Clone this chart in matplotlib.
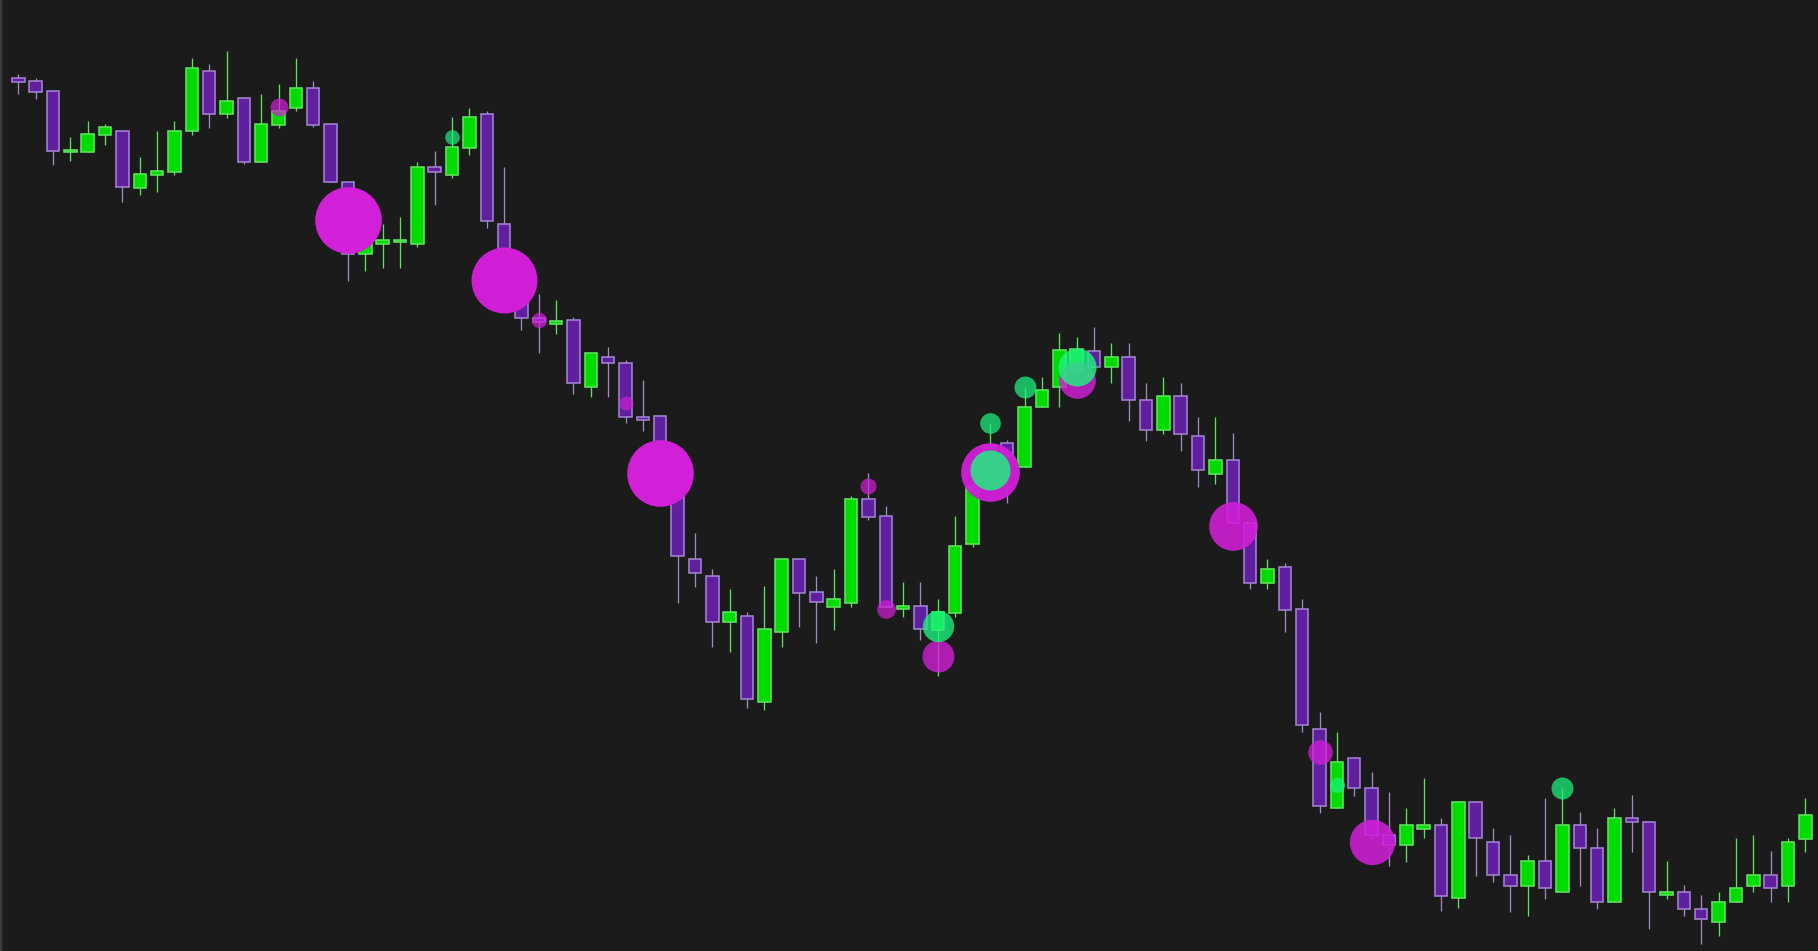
import matplotlib
matplotlib.use("Agg")
import matplotlib.pyplot as plt
import numpy as np

# ---- candle data (price units) ----
opens = [92.17, 91.87, 90.87, 84.80, 84.83, 86.53, 86.90, 81.23, 82.53, 82.83,
         86.87, 92.87, 88.57, 90.17, 83.83, 87.53, 89.17, 91.17, 87.57, 81.83,
         74.57, 75.57, 75.83, 75.57, 83.27, 82.53, 85.23, 88.60, 77.57, 71.50,
         68.20, 67.65, 67.97, 61.27, 64.27, 63.67, 58.33, 58.37, 53.00, 44.07,
         42.37, 37.77, 38.37, 29.77, 36.77, 44.07, 40.77, 39.33, 39.73, 50.07,
         48.37, 39.07, 39.40, 37.00, 38.73, 45.63, 52.50, 55.67, 53.35, 59.33,
         61.27, 62.80, 64.95, 63.27, 64.27, 59.97, 56.97, 60.37, 56.37, 52.63,
         53.97, 47.67, 41.73, 43.35, 39.07, 27.07, 19.17, 24.17, 21.17, 16.47,
         15.47, 17.15, 17.47, 10.20, 19.77, 15.77, 12.47, 11.43, 13.87, 10.83,
         17.47, 15.17, 9.83, 18.17, 17.77, 10.47, 10.83, 9.13, 7.83, 9.83,
         11.43, 12.47, 11.43, 16.13]
highs = [92.60, 92.23, 90.87, 86.33, 87.90, 87.60, 86.90, 84.30, 86.90, 87.90,
         94.20, 93.60, 94.90, 90.17, 90.60, 91.60, 94.20, 91.90, 87.57, 81.83,
         75.60, 77.60, 78.30, 83.83, 84.90, 88.27, 89.20, 88.90, 83.27, 71.50,
         70.60, 70.00, 68.27, 64.67, 65.27, 63.97, 62.00, 58.37, 53.00, 46.67,
         43.07, 41.07, 38.77, 41.40, 44.07, 44.07, 42.40, 43.10, 50.40, 52.70,
         49.40, 41.80, 41.80, 40.07, 48.40, 51.30, 57.73, 56.00, 61.35, 62.27,
         66.67, 66.33, 67.33, 65.67, 65.67, 61.67, 62.27, 61.67, 58.33, 58.33,
         56.67, 47.67, 44.07, 43.67, 40.07, 28.77, 26.77, 24.17, 22.83, 20.77,
         19.17, 22.17, 18.17, 19.77, 19.77, 17.17, 16.50, 14.47, 20.17, 21.17,
         18.80, 17.17, 19.17, 20.50, 17.77, 13.87, 11.50, 10.50, 10.83, 16.17,
         16.50, 14.90, 16.17, 20.17]
lows = [90.57, 90.13, 83.53, 83.93, 84.83, 85.53, 79.83, 80.53, 80.83, 82.53,
        86.53, 87.23, 88.23, 83.57, 83.83, 87.23, 88.87, 87.27, 81.83, 71.93,
        72.93, 73.20, 73.20, 75.27, 79.50, 82.25, 84.53, 77.23, 72.00, 67.00,
        64.67, 66.65, 60.60, 60.33, 60.33, 57.67, 56.93, 53.00, 39.73, 41.33,
        35.33, 34.77, 29.20, 29.00, 35.33, 37.33, 35.73, 37.00, 39.33, 48.00,
        39.33, 38.33, 36.00, 32.43, 38.33, 45.30, 51.20, 49.67, 53.35, 59.33,
        59.33, 62.20, 63.27, 61.67, 57.93, 55.93, 56.63, 54.93, 51.33, 51.63,
        47.67, 41.07, 41.07, 36.77, 26.77, 18.73, 19.17, 20.43, 16.00, 13.43,
        13.83, 16.17, 8.87, 9.17, 12.43, 11.83, 8.83, 8.43, 10.13, 10.83,
        11.43, 9.13, 9.83, 14.80, 7.13, 10.13, 8.43, 5.57, 6.43, 9.83,
        10.83, 9.83, 9.83, 14.83]
closes = [91.83, 90.83, 84.87, 85.00, 86.57, 87.27, 81.27, 82.57, 82.87, 86.87,
          93.17, 88.57, 89.87, 83.83, 87.57, 88.93, 91.17, 87.53, 81.83, 74.57,
          75.60, 75.97, 76.03, 83.27, 82.85, 85.27, 88.27, 77.95, 72.50, 68.25,
          67.80, 67.95, 61.67, 64.67, 63.67, 58.33, 57.97, 53.50, 44.40, 42.73,
          37.77, 38.77, 30.07, 37.07, 44.07, 40.73, 39.77, 40.07, 50.07, 48.33,
          39.33, 39.40, 37.07, 38.80, 45.40, 51.30, 55.40, 54.40, 59.35, 60.97,
          64.97, 65.10, 63.27, 64.27, 59.97, 56.97, 60.37, 56.63, 52.97, 53.97,
          47.67, 41.73, 43.07, 39.05, 27.47, 19.43, 23.77, 21.17, 16.50, 15.47,
          17.47, 17.47, 10.43, 19.77, 16.17, 12.47, 11.43, 13.87, 11.17, 17.47,
          15.17, 9.83, 18.17, 17.77, 10.83, 10.83, 9.13, 8.13, 9.83, 11.17,
          12.47, 11.17, 15.77, 18.47]

# ---- signal bubbles: candle number (1-based), price, strength ----
sell_idx = [16, 20, 29, 31, 36, 38, 50, 51, 54, 57, 62, 71, 76, 79]
sell_price = [89.27, 77.97, 72.00, 68.00, 59.73, 52.73, 51.40, 39.10, 34.43,
              52.83, 62.00, 47.40, 24.83, 15.83]
sell_strength = [27, 100, 99, 23, 21, 100, 24, 28, 48, 88, 55, 73, 37, 68]

buy_idx = [26, 54, 57, 57, 59, 62, 77, 90]
buy_price = [86.27, 37.43, 57.73, 53.00, 61.35, 63.33, 21.50, 21.17]
buy_strength = [22, 47, 31, 60, 33, 57, 23, 33]

BG = "#1b1b1b"
UP_FILL, UP_EDGE, UP_WICK = "#00dc00", "#5ee35e", "#5ee35e"
DN_FILL, DN_EDGE, DN_WICK = "#5f1f9e", "#a083cf", "#9f8cc2"
SELL_C = "#d21fd8"
BUY_C = "#1cf27f"

fig = plt.figure(figsize=(18.18, 9.51), dpi=100, facecolor=BG)
ax = fig.add_axes([0, 0, 1, 1])
ax.set_facecolor(BG)

o = np.array(opens); h = np.array(highs); l = np.array(lows); c = np.array(closes)
x = np.arange(len(o))
up = c >= o

PX = 0.72  # points per pixel at dpi 100

ax.vlines(x[up], l[up], h[up], color=UP_WICK, linewidth=1.3 * PX, zorder=1)
ax.vlines(x[~up], l[~up], h[~up], color=DN_WICK, linewidth=1.3 * PX, zorder=1)

w = 0.72
bot = np.minimum(o, c)
hgt = np.maximum(np.abs(c - o), 0.15)
ax.bar(x[up], hgt[up], bottom=bot[up], width=w, color=UP_FILL,
       edgecolor=UP_EDGE, linewidth=1.6 * PX, zorder=2)
ax.bar(x[~up], hgt[~up], bottom=bot[~up], width=w, color=DN_FILL,
       edgecolor=DN_EDGE, linewidth=1.6 * PX, zorder=2)


def bubbles(idx, price, strength, color, z):
    for i, p, s in zip(idx, price, strength):
        r_px = s * 0.333
        alpha = min(1.0, 0.6 + 0.012 * r_px)
        ax.scatter([i - 1], [p], s=(2 * r_px * PX) ** 2, color=color,
                   alpha=alpha, edgecolors=color, linewidths=0, zorder=z)


bubbles(sell_idx, sell_price, sell_strength, SELL_C, 3)
bubbles(buy_idx, buy_price, buy_strength, BUY_C, 4)

ax.set_xlim(-1.055, 103.73)
ax.set_ylim(4.9, 100)
ax.set_xticks([]); ax.set_yticks([])
for s in ax.spines.values():
    s.set_visible(False)
ax.axvline(-1.055, color="#3a3a3a", linewidth=2.5, zorder=0)

fig.savefig("out.png", dpi=100, facecolor=BG)
